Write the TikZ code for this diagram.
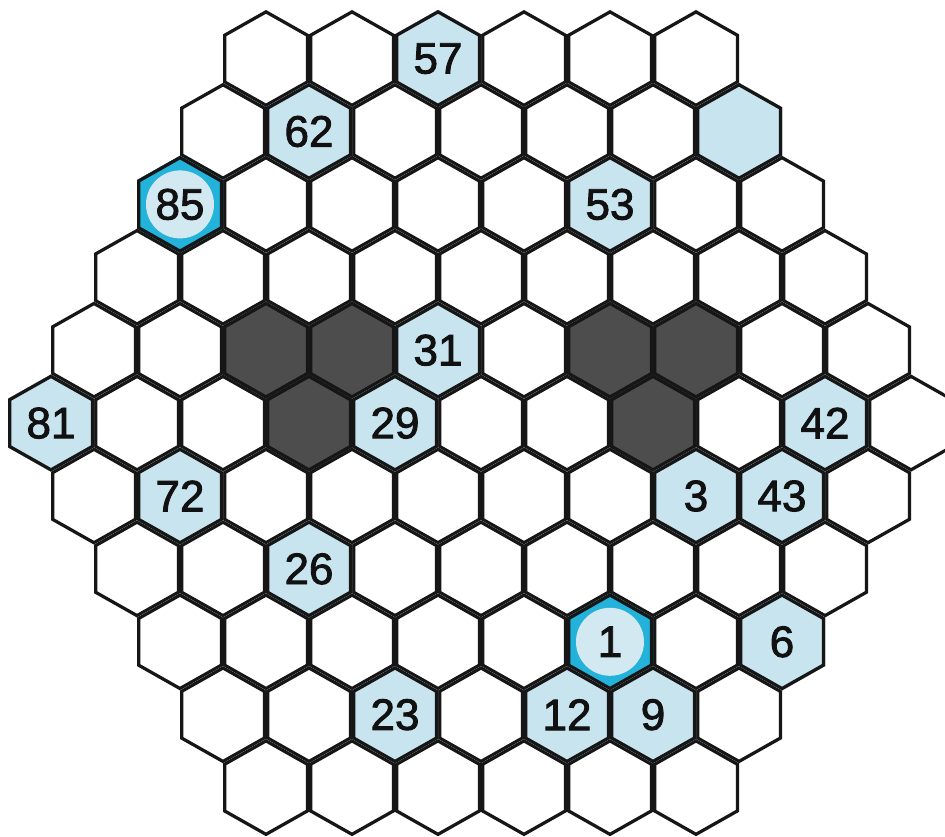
\documentclass[tikz,border=0pt]{standalone}
\usepackage{fontspec}
\setmainfont{Liberation Sans}
\newfontfamily\numfont[FakeBold=2]{Liberation Sans}
\definecolor{hexline}{HTML}{161616}
\definecolor{hexblue}{HTML}{C8E4EF}
\definecolor{hexdark}{HTML}{4D4D4D}
\definecolor{hexteal}{HTML}{22B2DA}
\definecolor{hexcirc}{HTML}{D2E9F2}
\definecolor{numcol}{HTML}{111111}
\tikzset{
  hexstroke/.style={draw=hexline,line width=6.5pt,line join=miter},
  numlabel/.style={inner sep=0pt,text=numcol,font=\numfont\fontsize{44}{44}\selectfont}
}
% #1 = x, #2 = y, #3 = fill colour
\newcommand\hexcell[3]{%
  \begin{scope}
    \clip (#1,#2-48.6) -- (#1+43,#2-24.3) -- (#1+43,#2+24.3) -- (#1,#2+48.6)
      -- (#1-43,#2+24.3) -- (#1-43,#2-24.3) -- cycle;
    \fill[#3] (#1-50,#2-55) rectangle (#1+50,#2+55);
    \path[hexstroke] (#1,#2-48.6) -- (#1+43,#2-24.3) -- (#1+43,#2+24.3) -- (#1,#2+48.6)
      -- (#1-43,#2+24.3) -- (#1-43,#2-24.3) -- cycle;
  \end{scope}}
% #1 = row, #2 = column (0-based), #3 = colour
\newcommand\cellat[3]{%
  \pgfmathsetmacro\cx{51+43*abs(#1-5)+86*#2}%
  \pgfmathsetmacro\cy{58.6+72.9*#1}%
  \hexcell{\cx}{\cy}{#3}}
% numbered blue cell: row, col, label
\newcommand\numcell[3]{%
  \cellat{#1}{#2}{hexblue}%
  \node[numlabel] (n#3) at (\cx,\cy) {#3};}
% circled cell: row, col, label
\newcommand\circcell[3]{%
  \cellat{#1}{#2}{hexteal}%
  \fill[hexcirc] (\cx,\cy) circle (34);
  \node[numlabel] (n#3) at (\cx,\cy) {#3};}
\begin{document}
\begin{tikzpicture}[x=1pt,y=-1pt]
\useasboundingbox (0,0) rectangle (945,837);
\fill[white] (0,0) rectangle (945,837);
% full grid
\foreach \r in {0,...,10}{
  \pgfmathtruncatemacro\nn{10-abs(\r-5)}
  \foreach \k in {0,...,\nn}{
    \cellat{\r}{\k}{white}
  }
}
% dark cells
\cellat{4}{2}{hexdark}
\cellat{4}{3}{hexdark}
\cellat{4}{6}{hexdark}
\cellat{4}{7}{hexdark}
\cellat{5}{3}{hexdark}
\cellat{5}{7}{hexdark}
% blank blue cell
\cellat{1}{6}{hexblue}
% numbered cells
\numcell{0}{2}{57}
\numcell{1}{1}{62}
\circcell{2}{0}{85}
\numcell{2}{5}{53}
\numcell{4}{4}{31}
\numcell{5}{0}{81}
\numcell{5}{4}{29}
\numcell{5}{9}{42}
\numcell{6}{1}{72}
\numcell{6}{7}{3}
\numcell{6}{8}{43}
\numcell{7}{2}{26}
\circcell{8}{5}{1}
\numcell{8}{7}{6}
\numcell{9}{2}{23}
\numcell{9}{4}{12}
\numcell{9}{5}{9}
\end{tikzpicture}
\end{document}
